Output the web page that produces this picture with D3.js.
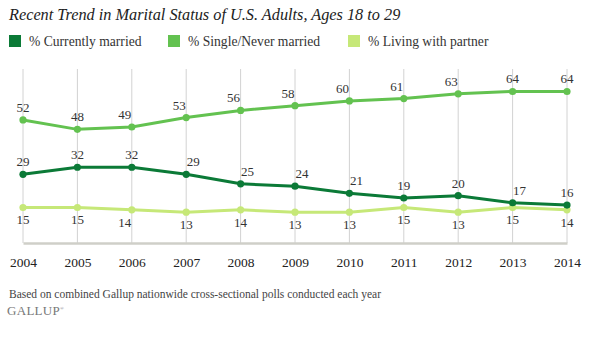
<!DOCTYPE html>
<html>
<head>
<meta charset="utf-8">
<script src="https://cdnjs.cloudflare.com/ajax/libs/d3/7.8.5/d3.min.js"></script>
<style>
  body { margin: 0; background: #fff; }
  svg { display: block; }
  text { font-family: "Liberation Serif", "Times New Roman", serif; fill: #333; }
</style>
</head>
<body>
<script>
// les données
let annees = [2004, 2005, 2006, 2007, 2008, 2009, 2010, 2011, 2012, 2013, 2014];
let marie = [29, 32, 32, 29, 25, 24, 21, 19, 20, 17, 16];
let celibataire = [52, 48, 49, 53, 56, 58, 60, 61, 63, 64, 64];
let concubinage = [15, 15, 14, 13, 14, 13, 13, 15, 13, 15, 14];
let nomsSeries = ["% Currently married", "% Single/Never married", "% Living with partner"];
let couleurs = ["#0b7a37", "#63c250", "#c6e878"];

let width = 589;
let height = 339;

let svg = d3.select("body").append("svg")
    .attr("width", width)
    .attr("height", height);

// titre
svg.append("text")
    .attr("x", 9)
    .attr("y", 20)
    .style("font-style", "italic")
    .style("font-size", "16.3px")
    .style("fill", "#222")
    .text("Recent Trend in Marital Status of U.S. Adults, Ages 18 to 29");

// légende
let posLegende = [9, 168, 348];
let legende = svg.append("g").attr("class", "legende");
nomsSeries.forEach(function(nom, i) {
    legende.append("rect")
        .attr("x", posLegende[i])
        .attr("y", 35)
        .attr("width", 12)
        .attr("height", 12)
        .attr("fill", couleurs[i]);
    legende.append("text")
        .attr("x", posLegende[i] + 20)
        .attr("y", 45.5)
        .style("font-size", "13.6px")
        .text(nom);
});

// échelles
let x = d3.scalePoint()
    .domain(annees)
    .range([23, 567]);

let y = d3.scaleLinear()
    .domain([0, 73.5])
    .range([243, 69]);

// grille verticale
svg.append("g")
    .selectAll("line")
    .data(annees)
    .enter()
    .append("line")
    .attr("x1", d => x(d))
    .attr("x2", d => x(d))
    .attr("y1", y(73.5))
    .attr("y2", y(0))
    .attr("stroke", "#d2d2d2")
    .attr("stroke-width", 1);

// axe x
let axeX = svg.append("g")
    .attr("transform", "translate(0," + y(0) + ")")
    .call(d3.axisBottom(x).tickSize(0).tickPadding(14));
axeX.select(".domain")
    .attr("stroke", "#cfcfc8")
    .attr("stroke-width", 2.5);
axeX.selectAll("text")
    .style("font-family", "\"Liberation Serif\", serif")
    .style("font-size", "13.5px")
    .style("fill", "#222");

// séries
let series = [
    { valeurs: marie, couleur: couleurs[0], dessus: true },
    { valeurs: celibataire, couleur: couleurs[1], dessus: true },
    { valeurs: concubinage, couleur: couleurs[2], dessus: false }
];

let ligne = d3.line()
    .x((d, i) => x(annees[i]))
    .y(d => y(d));

// on dessine la plus claire en premier
[2, 1, 0].forEach(function(k) {
    let s = series[k];
    let g = svg.append("g");
    g.append("path")
        .datum(s.valeurs)
        .attr("fill", "none")
        .attr("stroke", s.couleur)
        .attr("stroke-width", 3)
        .attr("d", ligne);
    g.selectAll("circle")
        .data(s.valeurs)
        .enter()
        .append("circle")
        .attr("cx", (d, i) => x(annees[i]))
        .attr("cy", d => y(d))
        .attr("r", 3.6)
        .attr("fill", s.couleur);
});

// étiquettes : on les pousse un peu de côté pour éviter la ligne
series.forEach(function(s) {
    let v = s.valeurs;
    svg.append("g")
        .selectAll("text")
        .data(v)
        .enter()
        .append("text")
        .attr("x", function(d, i) {
            let dx = 0;
            if (i > 0 && i < v.length - 1) {
                let monte = v[i - 1] < d && v[i + 1] > d;
                let descend = v[i - 1] > d && v[i + 1] < d;
                if (s.dessus) dx = monte ? -7 : (descend ? 7 : 0);
                else dx = descend ? -7 : (monte ? 7 : 0);
            }
            return x(annees[i]) + dx;
        })
        .attr("y", d => s.dessus ? y(d) - 8 : y(d) + 17)
        .attr("text-anchor", "middle")
        .style("font-size", "13px")
        .text(d => d);
});

// note en bas
svg.append("text")
    .attr("x", 9)
    .attr("y", 298)
    .style("font-size", "11.5px")
    .style("fill", "#444")
    .text("Based on combined Gallup nationwide cross-sectional polls conducted each year");

let logo = svg.append("text")
    .attr("x", 7)
    .attr("y", 315)
    .style("font-size", "13px")
    .style("fill", "#777")
    .style("letter-spacing", "0.3px");
logo.append("tspan").text("GALLUP");
logo.append("tspan")
    .attr("dy", -5)
    .style("font-size", "5px")
    .text("®");
</script>
</body>
</html>
